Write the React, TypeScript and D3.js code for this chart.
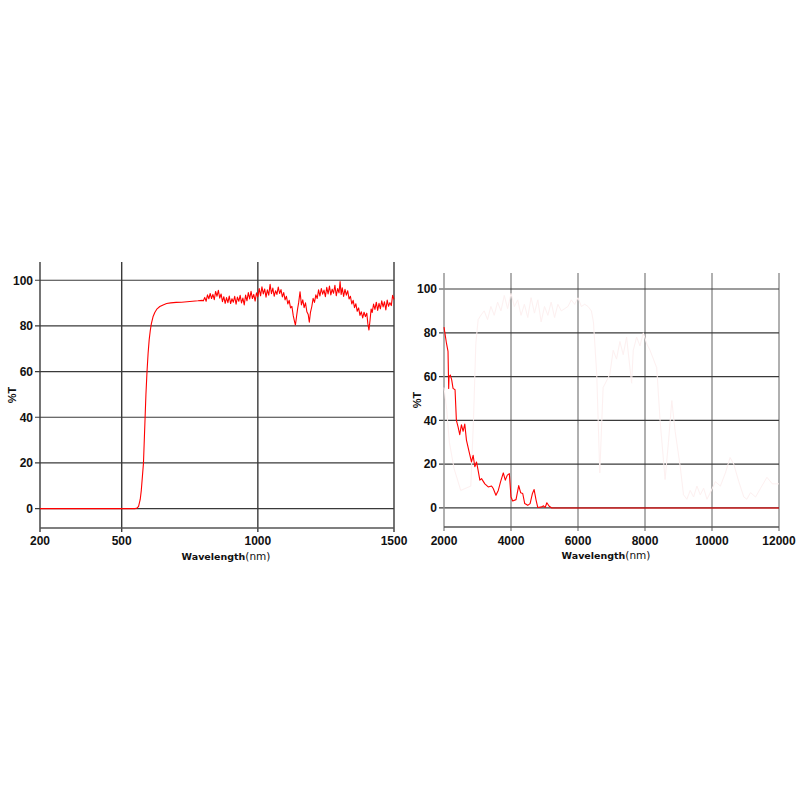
import * as d3 from "d3";

// ---- data: visible/NIR panel (wavelength nm, %T) ----
const visWl = [200, 550, 556, 562, 568, 572, 576, 580, 583, 586, 589, 593, 597, 601, 605, 609, 615, 622, 630, 640, 652, 665, 680, 700, 720, 740, 760, 780, 795,
  800, 805, 810, 815, 820, 825, 830, 835, 840, 845, 850, 855, 860, 865, 870, 875, 880, 885, 890, 895,
  900, 905, 910, 915, 920, 925, 930, 935, 940, 945, 950, 955, 960, 965, 970, 975, 980, 985, 990, 995,
  1000, 1005, 1010, 1015, 1020, 1025, 1030, 1035, 1040, 1045, 1050, 1055, 1060, 1065, 1070, 1075, 1080, 1085, 1090, 1095,
  1100, 1105, 1110, 1115, 1120, 1125, 1130, 1135, 1138, 1142, 1146, 1150, 1155, 1160, 1165, 1170, 1175, 1180, 1185, 1189, 1193, 1198,
  1203, 1208, 1213, 1218, 1223, 1228, 1233, 1238, 1243, 1248, 1253, 1258, 1263, 1268, 1273, 1278, 1283, 1288, 1293, 1298,
  1302, 1306, 1310, 1315, 1320, 1325, 1330, 1335, 1340, 1345, 1350, 1355, 1360, 1365, 1370, 1375, 1380, 1385, 1390, 1395,
  1400, 1404, 1408, 1412, 1416, 1420, 1425, 1430, 1435, 1440, 1445, 1450, 1455, 1460, 1465, 1470, 1475, 1480, 1485, 1490, 1495, 1500];
const visT = [0, 0, 0.2, 1, 4, 8, 14, 20, 30, 40, 50, 60, 68, 74, 78, 81, 84, 86, 87.5, 88.5, 89.2, 89.8, 90.1, 90.3, 90.4, 90.6, 90.8, 91, 91.2,
  91.0, 92.5, 90.8, 93.6, 91.9, 94.2, 92.0, 93.8, 91.5, 95.1, 93.0, 95.6, 92.2, 94.0, 90.6, 92.8, 89.9, 92.4, 90.2, 93.1,
  89.8, 91.9, 90.4, 93.0, 89.5, 92.6, 90.8, 93.4, 90.1, 92.2, 89.2, 93.5, 91.0, 94.6, 91.8, 95.2, 92.0, 93.8, 90.9, 94.5,
  92.8, 96.4, 93.2, 97.1, 94.0, 96.2, 92.6, 95.8, 93.5, 98.2, 94.1, 96.6, 93.0, 95.4, 93.8, 97.0, 94.2, 95.9, 92.7, 94.6,
  91.4, 93.0, 89.6, 91.2, 87.9, 88.6, 84.5, 81.8, 80.4, 84.0, 87.5, 90.3, 95.0, 89.2, 91.4, 88.0, 90.1, 86.2, 85.0, 81.6, 85.8, 88.4,
  92.1, 90.3, 93.6, 92.0, 95.8, 93.1, 96.4, 93.9, 95.7, 92.8, 96.9, 94.0, 97.5, 93.6, 96.1, 94.3, 97.8, 93.2, 96.4, 94.5,
  99.4, 93.8, 96.7, 92.9, 96.0, 93.5, 95.4, 91.8, 93.0, 89.6, 91.2, 88.0, 89.7, 86.4, 87.9, 84.6, 86.2, 83.5, 86.0, 84.1,
  85.6, 81.0, 78.2, 82.5, 87.4, 85.9, 89.6, 87.2, 90.4, 86.8, 89.9, 87.5, 91.0, 88.3, 90.6, 87.0, 91.3, 88.6, 90.2, 88.9, 93.4, 91.6];

// ---- data: mid-IR panel ----
const irWl = [2000, 2076, 2120, 2140, 2150, 2190, 2230, 2270, 2330, 2370, 2420, 2470, 2520, 2570, 2620, 2670, 2750, 2820, 2870, 2920, 2970,
  3020, 3070, 3120, 3220, 3320, 3420, 3470, 3550, 3620, 3690, 3770, 3830, 3890, 3950, 4000, 4050, 4150, 4230, 4290, 4350,
  4410, 4500, 4570, 4640, 4690, 4750, 4800, 4920, 4970, 5020, 5070, 5140, 5220, 12000];
const irT = [82.6, 75, 71.5, 54.6, 60, 60.7, 58.5, 54.6, 54, 40, 37, 33.5, 38, 35, 38.3, 31, 25.6, 21, 24, 18.8, 21,
  17, 12.7, 13.4, 11, 9.6, 10, 8.9, 5.8, 8, 12, 16, 12.7, 15, 15.7, 5, 3.2, 3.8, 10.2, 6.9, 6.6,
  2, 1.2, 2, 6.6, 8.4, 3.5, 0.2, 0.5, 1, 0.2, 2.4, 0.8, 0, 0];

// faint reference trace behind the mid-IR curve
const ghostWl = [2000, 2080, 2160, 2300, 2500, 2800, 2880, 2950, 3020, 3100, 3200, 3300, 3400, 3500, 3600, 3700, 3800, 3900, 4000, 4100,
  4200, 4300, 4400, 4500, 4600, 4700, 4800, 4900, 5000, 5100, 5200, 5300, 5400, 5500, 5600, 5700, 5800, 5900, 6000, 6100, 6200, 6300, 6400,
  6460, 6560, 6650, 6750, 6950, 7050, 7150, 7250, 7350, 7450, 7550, 7600, 7650, 7750, 7850, 7950, 8050, 8150, 8250, 8350,
  8450, 8550, 8600, 8700, 8800, 8900, 9050, 9150, 9250, 9350, 9450, 9550, 9650, 9750, 9850, 9950, 10100, 10250, 10400, 10540,
  10650, 10800, 10950, 11040, 11150, 11300, 11450, 11640, 11800, 12000];
const ghostT = [55, 45, 30, 18, 8, 10, 40, 75, 86, 88, 90, 86, 92, 88, 94, 90, 97, 91, 98, 92,
  95, 88, 93, 87, 96, 89, 95, 85, 92, 88, 94, 87, 93, 90, 91, 92, 95, 93, 96, 92, 93, 92, 90,
  85, 61, 16, 55, 61, 72, 68, 76, 70, 78, 64, 57, 72, 78, 74, 80, 75, 72, 68, 64,
  40, 22, 13, 30, 49, 35, 19, 6, 4, 8, 5, 10, 6, 9, 4, 7, 12, 10, 16, 23,
  20, 12, 5, 4, 7, 5, 9, 14, 11, 11];

const yTicks = [0, 20, 40, 60, 80, 100];
const visXTicks = [200, 500, 1000, 1500];
const irXTicks = [2000, 4000, 6000, 8000, 10000, 12000];

type PanelProps = {
  x0: number; x1: number; yTop: number; yBot: number;
  xDomain: [number, number]; yDomain: [number, number];
  xTicks: number[]; wl: number[]; t: number[];
  ghost?: { wl: number[]; t: number[] };
  vColor: string; labelBase: number; titleBase: number; titleX: number; ylabX: number;
};

const tickFont = "'Liberation Sans', Arial, sans-serif";

const Panel = (p: PanelProps) => {
  const x = d3.scaleLinear().domain(p.xDomain).range([p.x0, p.x1]);
  const y = d3.scaleLinear().domain(p.yDomain).range([p.yBot, p.yTop]);
  const line = d3.line<number>().x((_, i) => x(p.wl[i])).y((d) => y(d));
  const ghostLine = p.ghost
    ? d3.line<number>().x((_, i) => x(p.ghost!.wl[i])).y((d) => y(d))(p.ghost.t)
    : null;
  const midY = (p.yTop + p.yBot) / 2;

  return (
    <g>
      {/* vertical grid */}
      {p.xTicks.slice(1).map((v) => (
        <line key={"v" + v} x1={x(v)} x2={x(v)} y1={p.yTop} y2={p.yBot + 4} stroke={p.vColor} strokeWidth={1.4} />
      ))}
      {/* horizontal grid */}
      {yTicks.map((v) => (
        <line key={"h" + v} x1={p.x0 - 5} x2={p.x1} y1={y(v)} y2={y(v)} stroke="#3a3a3a" strokeWidth={1.2} />
      ))}
      {/* axes */}
      <line x1={p.x0} x2={p.x0} y1={p.yTop} y2={p.yBot + 4} stroke={p.vColor} strokeWidth={1.4} />
      <line x1={p.x0} x2={p.x1} y1={p.yBot} y2={p.yBot} stroke="#555" strokeWidth={1.3} />

      {ghostLine && <path d={ghostLine} fill="none" stroke="#fdf0f0" strokeWidth={1} />}
      <path d={line(p.t) ?? ""} fill="none" stroke="#ff0000" strokeWidth={1.1} strokeLinejoin="round" />

      {yTicks.map((v) => (
        <text key={"yl" + v} x={p.x0 - 7} y={y(v)} dy="0.36em" textAnchor="end"
          fontFamily={tickFont} fontWeight="bold" fontSize={12} fill="#111">{v}</text>
      ))}
      {p.xTicks.map((v) => (
        <text key={"xl" + v} x={x(v)} y={p.labelBase} textAnchor="middle"
          fontFamily={tickFont} fontWeight="bold" fontSize={12} fill="#111">{v}</text>
      ))}
      <text x={p.titleX} y={p.titleBase} textAnchor="middle" fontFamily="'DejaVu Sans', Verdana, sans-serif" fontSize={9.5} fill="#111">
        <tspan fontWeight="bold">Wavelength</tspan><tspan fontSize={10.5}>(nm)</tspan>
      </text>
      <text transform={`translate(${p.ylabX},${midY}) rotate(-90)`} textAnchor="middle" dy="0.35em"
        fontFamily={tickFont} fontWeight="bold" fontSize={11} fill="#111">%T</text>
    </g>
  );
};

export default function App() {
  return (
    <svg width={800} height={800} style={{ position: "absolute", left: 0, top: 0, background: "#fff" }}>
      <rect width={800} height={800} fill="#fff" />
      <Panel x0={40} x1={394} yTop={262} yBot={528} xDomain={[200, 1500]} yDomain={[-8.5, 108]}
        xTicks={visXTicks} wl={visWl} t={visT} vColor="#3a3a3a"
        labelBase={545} titleBase={560} titleX={226} ylabX={12} />
      <Panel x0={444} x1={779} yTop={273} yBot={527} xDomain={[2000, 12000]} yDomain={[-8.7, 107.3]}
        xTicks={irXTicks} wl={irWl} t={irT} ghost={{ wl: ghostWl, t: ghostT }} vColor="#8f8f8f"
        labelBase={545} titleBase={559} titleX={606} ylabX={417} />
    </svg>
  );
}
